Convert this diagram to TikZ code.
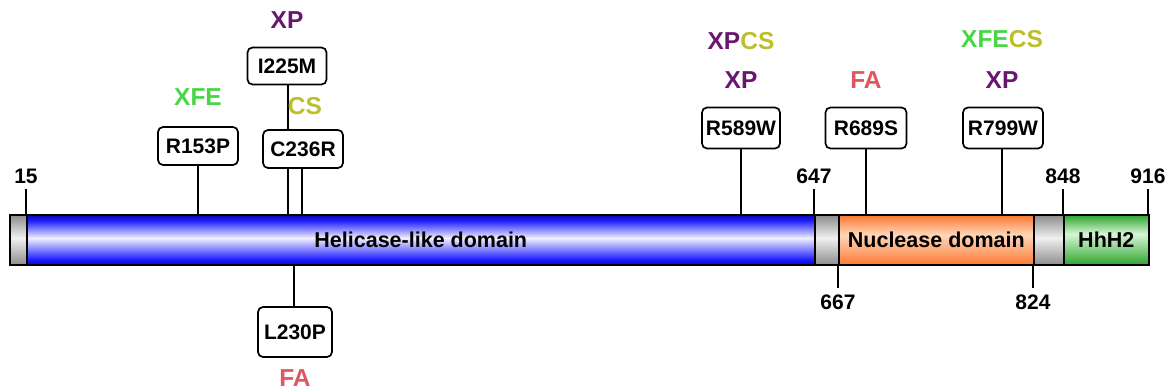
\documentclass[tikz,border=0pt]{standalone}
\usepackage{fontspec}
\setmainfont{Liberation Sans}
\definecolor{xpc}{RGB}{105,22,110}
\definecolor{xfec}{RGB}{70,215,70}
\definecolor{csc}{RGB}{190,190,45}
\definecolor{fac}{RGB}{225,85,95}
\definecolor{blueedge}{RGB}{10,10,170}
\definecolor{bluefull}{RGB}{25,25,255}
\definecolor{bluemid}{RGB}{240,240,255}
\definecolor{orgedge}{RGB}{252,120,50}
\definecolor{orgmid}{RGB}{255,215,185}
\definecolor{grnedge}{RGB}{45,165,45}
\definecolor{grnmid}{RGB}{215,245,215}
\definecolor{gryedge}{RGB}{140,140,140}
\definecolor{grymid}{RGB}{240,240,240}
\pgfdeclareverticalshading{blueshade}{100bp}{color(0bp)=(blueedge); color(25bp)=(blueedge); color(30bp)=(bluefull); color(52bp)=(bluemid); color(70bp)=(bluefull); color(75bp)=(blueedge); color(100bp)=(blueedge)}
\pgfdeclareverticalshading{orgshade}{100bp}{color(0bp)=(orgedge); color(25bp)=(orgedge); color(55bp)=(orgmid); color(75bp)=(orgedge); color(100bp)=(orgedge)}
\pgfdeclareverticalshading{grnshade}{100bp}{color(0bp)=(grnedge); color(25bp)=(grnedge); color(56bp)=(grnmid); color(75bp)=(grnedge); color(100bp)=(grnedge)}
\pgfdeclareverticalshading{gryshade}{100bp}{color(0bp)=(gryedge); color(25bp)=(gryedge); color(52bp)=(grymid); color(75bp)=(gryedge); color(100bp)=(gryedge)}
\begin{document}
\begin{tikzpicture}[x=1pt,y=-1pt,
  seg/.style={draw=black, line width=1.6pt, anchor=west, minimum height=50pt, inner sep=0pt, shade,
    font=\fontsize{21.5}{23}\selectfont\bfseries},
  mut/.style={draw=black, line width=1.7pt, rounded corners=5pt, fill=white, inner sep=0pt,
    font=\fontsize{21}{23}\selectfont\bfseries},
  conn/.style={line width=1.5pt},
  num/.style={inner sep=0pt, font=\fontsize{21}{23}\selectfont\bfseries},
  dis/.style={inner sep=0pt, font=\fontsize{24.5}{26}\selectfont\bfseries}]
\useasboundingbox (0,0) rectangle (1173,391);
% bar segments
\node[seg, shading=gryshade, minimum width=17pt] (g1) at (9,240) {};
\node[seg, shading=blueshade, minimum width=788pt] (hel) at (26,240) {Helicase-like domain};
\node[seg, shading=gryshade, minimum width=24pt] (g2) at (814,240) {};
\node[seg, shading=orgshade, minimum width=195pt] (nuc) at (838,240) {Nuclease domain};
\node[seg, shading=gryshade, minimum width=30pt] (g3) at (1033,240) {};
\node[seg, shading=grnshade, minimum width=85pt] (hhh) at (1063,240) {HhH2};
% position ticks above
\coordinate (t15) at (26,189);
\coordinate (t647) at (814,189);
\coordinate (t848) at (1063,189);
\coordinate (t916) at (1148,189);
\foreach \t/\l in {t15/15, t647/647, t848/848, t916/916}{
  \draw[conn] (\t) -- (\t |- hel.north);
  \node[num] (l\t) at ([yshift=13pt]\t) {\l};
}
% position ticks below
\coordinate (t667) at (838,288);
\coordinate (t824) at (1033,288);
\foreach \t/\l in {t667/667, t824/824}{
  \draw[conn] (\t |- hel.south) -- (\t);
  \node[num] (l\t) at ([yshift=-14pt]\t) {\l};
}
% mutation boxes
\node[mut, minimum width=80pt, minimum height=38pt] (r153) at (198,146) {R153P};
\node[mut, minimum width=79pt, minimum height=37pt] (i225) at (287,66) {I225M};
\node[mut, minimum width=80pt, minimum height=38pt] (c236) at (303,149) {C236R};
\node[mut, minimum width=74pt, minimum height=50pt] (l230) at (295,332) {L230P};
\node[mut, minimum width=78pt, minimum height=41pt] (r589) at (741,128) {R589W};
\node[mut, minimum width=81pt, minimum height=41pt] (r689) at (866,128) {R689S};
\node[mut, minimum width=80pt, minimum height=41pt] (r799) at (1003,128) {R799W};
% connectors
\draw[conn] (r153.south) -- (r153.south |- hel.north);
\draw[conn] ([xshift=1pt]i225.south) -- ([xshift=1pt]i225.south |- c236.north);
\draw[conn] ([xshift=-15pt]c236.south) -- ([xshift=-15pt]c236.south |- hel.north);
\draw[conn] ([xshift=-1pt]c236.south) -- ([xshift=-1pt]c236.south |- hel.north);
\draw[conn] ([xshift=-1pt]l230.north |- hel.south) -- ([xshift=-1pt]l230.north);
\draw[conn] (r589.south) -- (r589.south |- hel.north);
\draw[conn] (r689.south) -- (r689.south |- nuc.north);
\draw[conn] ([xshift=-1pt]r799.south) -- ([xshift=-1pt]r799.south |- nuc.north);
% disease labels
\node[dis, text=xpc] (d1) at (287,20) {XP};
\node[dis, text=xfec] (d2) at (198,97) {XFE};
\node[dis, text=csc] (d3) at (305,106) {CS};
\node[dis, text=fac] (d4) at (295,378) {FA};
\node[dis] (d5) at (741,41) {\textcolor{xpc}{XP}\textcolor{csc}{CS}};
\node[dis, text=xpc] (d6) at (741,80) {XP};
\node[dis, text=fac] (d7) at (866,80) {FA};
\node[dis] (d8) at (1002,39) {\textcolor{xfec}{XFE}\textcolor{csc}{CS}};
\node[dis, text=xpc] (d9) at (1002,80) {XP};
\end{tikzpicture}
\end{document}
